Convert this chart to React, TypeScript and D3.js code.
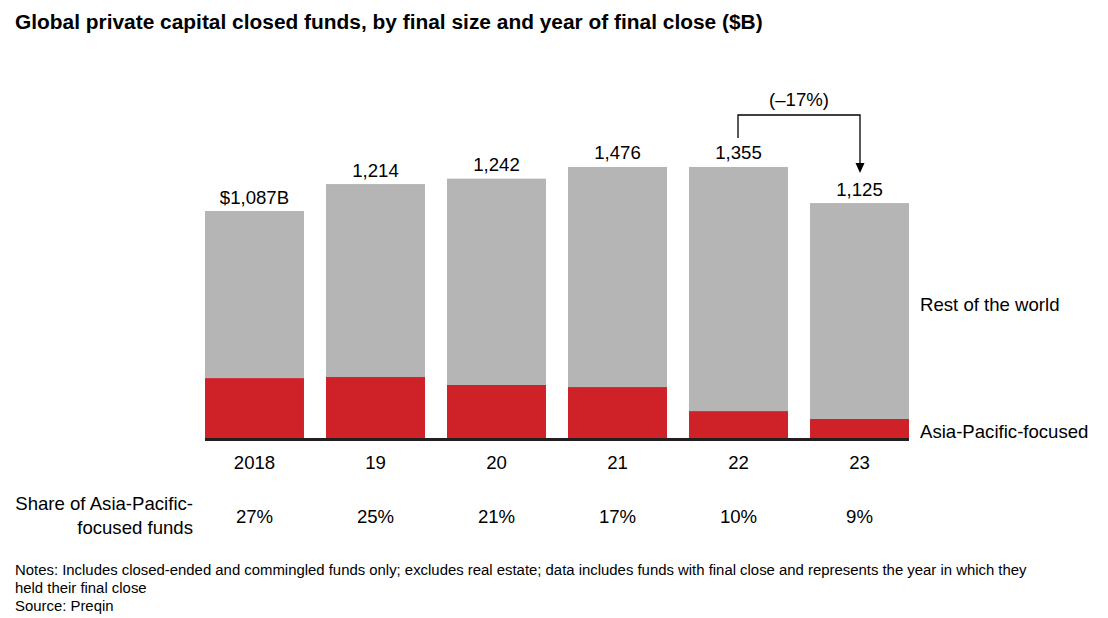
import React from "react";
import * as d3 from "d3";

const categories = ["2018", "19", "20", "21", "22", "23"];
const asiaValues = [287, 292, 254, 244, 129, 91];
const restValues = [800, 924, 988, 1054, 1169, 1034];
const totalLabels = ["$1,087B", "1,214", "1,242", "1,476", "1,355", "1,125"];
const shareLabels = ["27%", "25%", "21%", "17%", "10%", "9%"];
const seriesNames = ["Asia-Pacific-focused", "Rest of the world"];
const changeLabel = "(–17%)";

const W = 1108;
const H = 618;
const FONT = "'Liberation Sans', Arial, sans-serif";
const GREY = "#b4b5b4";
const RED = "#cf2128";
const FS = 18.6;
const NFS = 14.9;

export default function App() {
  const x = d3.scaleBand<string>().domain(categories).range([205, 909]).paddingInner(0.182).paddingOuter(0);
  const y = d3.scaleLinear().domain([0, 1087]).range([438, 211]);

  const rows = categories.map((c, i) => ({ cat: c, asia: asiaValues[i], rest: restValues[i] }));
  const stack = d3.stack<any>().keys(["asia", "rest"])(rows);
  const colors = [RED, GREY];

  const bw = x.bandwidth();
  const cx = (c: string) => (x(c) as number) + bw / 2;
  const top = (i: number) => y(asiaValues[i] + restValues[i]);

  const i22 = 4, i23 = 5;
  const arrowY = 115;
  const ax1 = cx(categories[i22]);
  const ax2 = cx(categories[i23]);

  return (
    <svg width={W} height={H} style={{ position: "absolute", left: 0, top: 0, background: "#fff" }} fontFamily={FONT}>
      <text x={15} y={29} fontSize={20.9} fontWeight="bold" fill="#000">
        Global private capital closed funds, by final size and year of final close ($B)
      </text>

      {stack.map((s, si) => (
        <g key={si} fill={colors[si]}>
          {s.map((d, i) => (
            <rect key={i} x={x(categories[i])} y={y(d[1])} width={bw} height={y(d[0]) - y(d[1])} />
          ))}
        </g>
      ))}

      <line x1={205} x2={909} y1={439.5} y2={439.5} stroke="#231f20" strokeWidth={3} />

      {categories.map((c, i) => (
        <text key={"t" + i} x={cx(c)} y={top(i) - 14} dy="0.35em" textAnchor="middle" fontSize={FS} fill="#000">
          {totalLabels[i]}
        </text>
      ))}

      {categories.map((c, i) => (
        <text key={"c" + i} x={cx(c)} y={462} dy="0.35em" textAnchor="middle" fontSize={FS} fill="#000">
          {c}
        </text>
      ))}

      {categories.map((c, i) => (
        <text key={"s" + i} x={cx(c)} y={516} dy="0.35em" textAnchor="middle" fontSize={FS} fill="#000">
          {shareLabels[i]}
        </text>
      ))}

      <text x={193} y={503} dy="0.35em" textAnchor="end" fontSize={FS} fill="#000">Share of Asia-Pacific-</text>
      <text x={193} y={527} dy="0.35em" textAnchor="end" fontSize={FS} fill="#000">focused funds</text>

      <text x={920} y={304} dy="0.35em" fontSize={FS} fill="#000">{seriesNames[1]}</text>
      <text x={920} y={431} dy="0.35em" fontSize={FS} fill="#000">{seriesNames[0]}</text>

      <path
        d={`M${ax1 - 0.5},${top(i22) - 29} V${arrowY} H${ax2 + 0.5} V${top(i23) - 34}`}
        fill="none"
        stroke="#000"
        strokeWidth={1.3}
      />
      <path
        d={`M${ax2 + 0.5 - 4.5},${top(i23) - 40} L${ax2 + 0.5 + 4.5},${top(i23) - 40} L${ax2 + 0.5},${top(i23) - 30} Z`}
        fill="#000"
      />
      <text x={(ax1 + ax2) / 2} y={99} dy="0.35em" textAnchor="middle" fontSize={FS} fill="#000">
        {changeLabel}
      </text>

      <text x={15} y={570} dy="0.35em" fontSize={NFS} fill="#000">
        Notes: Includes closed-ended and commingled funds only; excludes real estate; data includes funds with final close and represents the year in which they
      </text>
      <text x={15} y={588} dy="0.35em" fontSize={NFS} fill="#000">held their final close</text>
      <text x={15} y={606} dy="0.35em" fontSize={NFS} fill="#000">Source: Preqin</text>
    </svg>
  );
}
